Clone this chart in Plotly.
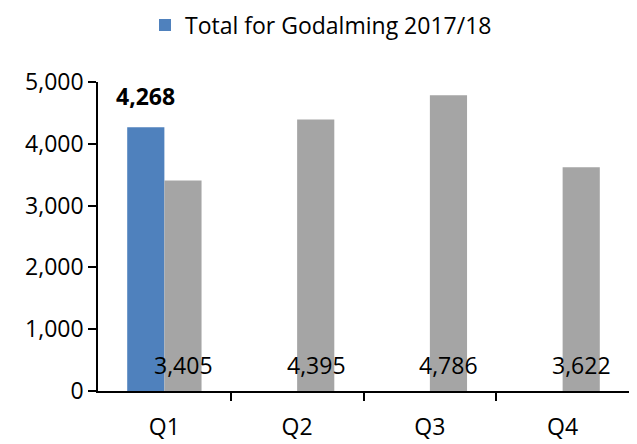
import plotly.graph_objects as go

categories = ["Q1", "Q2", "Q3", "Q4"]
godalming = [4268, None, None, None]
other = [3405, 4395, 4786, 3622]
y_ticks = [0, 1000, 2000, 3000, 4000, 5000]

FONT = "Open Sans"
FS = 23
idx = list(range(len(categories)))

fig = go.Figure()
fig.add_trace(go.Bar(x=idx, y=godalming, name="Total for Godalming 2017/18",
                     marker=dict(color="#4f81bd", line=dict(width=0)), showlegend=True))
fig.add_trace(go.Bar(x=idx, y=other, name="other", marker=dict(color="#a5a5a5", line=dict(width=0)),
                     showlegend=False))

# gray labels near the base, centered on gray bars
for i, v in zip(idx, other):
    fig.add_annotation(x=i, y=0, xref="x", yref="y", text=f"{v:,}", showarrow=False,
                       xshift=19, yshift=26, yanchor="middle",
                       font=dict(family=FONT, size=FS, color="black"))
# bold label above blue bar
for i, v in zip(idx, godalming):
    if v is not None:
        fig.add_annotation(x=i, y=v, xref="x", yref="y", text=f"<b>{v:,}</b>", showarrow=False,
                           xshift=-19, yshift=31, yanchor="middle",
                           font=dict(family=FONT, size=FS, color="black"))

fig.update_layout(
    width=637, height=444,
    margin=dict(l=90, r=16, t=74, b=61, autoexpand=False),
    paper_bgcolor="white", plot_bgcolor="white",
    barmode="group", bargap=0.44, bargroupgap=0,
    font=dict(family=FONT, size=FS, color="black"),
    legend=dict(orientation="h", xref="container", yref="container", x=137/637, xanchor="left",
                y=1 - 17/444, yanchor="middle", font=dict(family=FONT, size=FS),
                bgcolor="rgba(0,0,0,0)"),
    xaxis=dict(range=[-0.5, len(categories) - 0.5], tickvals=idx, ticktext=categories,
               ticks="", showgrid=False, zeroline=False, showline=True, linecolor="black",
               linewidth=1.5, tickfont=dict(family=FONT, size=FS), ticklabelstandoff=15,
               minor=dict(tickvals=[i + 0.5 for i in idx[:-1]], ticks="outside", ticklen=8,
                          tickwidth=1.5, tickcolor="black", showgrid=False)),
    yaxis=dict(range=[0, 5000], tickvals=y_ticks, tickformat=",", ticks="outside", ticklen=8,
               tickwidth=1.5, tickcolor="black", showgrid=False, zeroline=False,
               showline=True, linecolor="black", linewidth=1.5,
               tickfont=dict(family=FONT, size=FS)),
)

fig.write_html("out.html")
